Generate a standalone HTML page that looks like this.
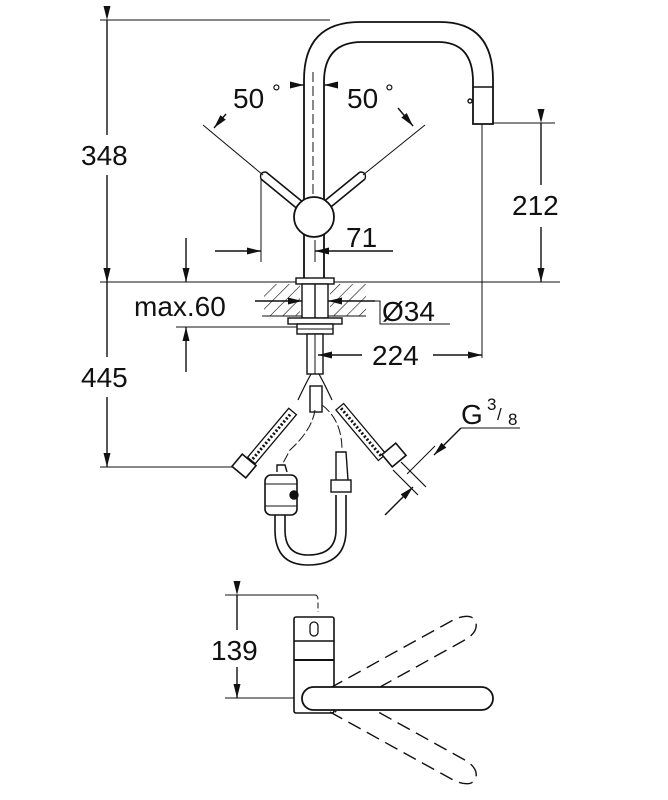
<!DOCTYPE html>
<html><head><meta charset="utf-8"><style>
html,body{margin:0;padding:0;background:#fff}
svg{display:block}
text{font-family:"Liberation Sans",sans-serif;fill:#111}
</style></head><body>
<svg width="668" height="800" viewBox="0 0 668 800" xmlns="http://www.w3.org/2000/svg">
<defs>
<marker id="a" viewBox="0 0 14 10" refX="14" refY="5" markerWidth="14" markerHeight="10" markerUnits="userSpaceOnUse" orient="auto"><path d="M0,1.5 L14,5 L0,8.5 z" fill="#111"/></marker>
<pattern id="h" width="9" height="9" patternUnits="userSpaceOnUse" patternTransform="rotate(45)"><line x1="0" y1="0" x2="0" y2="9" stroke="#111" stroke-width="1.2"/></pattern>
</defs>
<g fill="none" stroke="#111" stroke-width="1.4">
<line x1="100" y1="20" x2="330" y2="20" stroke-width="1"/>
<line x1="107" y1="20" x2="107" y2="135" marker-start="url(#a)"/>
<line x1="107" y1="175" x2="107" y2="282" marker-end="url(#a)"/>
<line x1="100" y1="282" x2="300" y2="282" stroke-width="1"/>
<line x1="328" y1="282" x2="560" y2="282" stroke-width="1"/>
<line x1="107" y1="282" x2="107" y2="357" marker-start="url(#a)"/>
<line x1="107" y1="397" x2="107" y2="467" marker-end="url(#a)"/>
<line x1="100" y1="467" x2="240" y2="467" stroke-width="1"/>
<line x1="186" y1="238" x2="186" y2="282" marker-end="url(#a)"/>
<line x1="186" y1="372" x2="186" y2="327" marker-end="url(#a)"/>
<line x1="176" y1="327" x2="300" y2="327" stroke-width="1"/>
<path d="M304,280 V80 Q304,22 360,22 H440 Q493,22 493,80 V124 H473 V82 Q473,42 438,42 H362 Q324,42 324,82 V280" stroke-width="1.8"/>
<line x1="473" y1="87" x2="493" y2="87"/>
<circle cx="470" cy="101" r="2"/>
<line x1="313" y1="72" x2="313" y2="200" stroke-width="1" stroke-dasharray="10,4"/>
<line x1="493" y1="123" x2="555" y2="123" stroke-width="1"/>
<line x1="541" y1="123" x2="541" y2="185" marker-start="url(#a)"/>
<line x1="541" y1="227" x2="541" y2="282" marker-end="url(#a)"/>
<line x1="482" y1="124" x2="482" y2="358" stroke-width="1"/>
<line x1="203" y1="125" x2="263" y2="175" stroke-width="1"/>
<line x1="425" y1="125" x2="363" y2="175" stroke-width="1"/>
<path d="M261,179 L300,211 M266,172 L304,203" stroke-width="1.6"/>
<path d="M261,179 Q259,172 266,172"/>
<path d="M365,179 L326,211 M360,172 L322,203" stroke-width="1.6"/>
<path d="M365,179 Q367,172 360,172"/>
<circle cx="314" cy="217" r="20" fill="#fff" stroke-width="1.8"/>
<path d="M226,114 L214,128" marker-end="url(#a)"/>
<path d="M398,108 L413,126" marker-end="url(#a)"/>
<line x1="290" y1="85" x2="304" y2="85" marker-end="url(#a)"/>
<line x1="338" y1="85" x2="324" y2="85" marker-end="url(#a)"/>
<line x1="261" y1="178" x2="261" y2="262" stroke-width="1"/>
<line x1="215" y1="251" x2="261" y2="251" marker-end="url(#a)"/>
<line x1="393" y1="251" x2="315" y2="251" marker-end="url(#a)"/>
<line x1="315" y1="240" x2="315" y2="262" stroke-width="1"/>
<rect x="264" y="284" width="36" height="32" fill="url(#h)" stroke="none"/>
<rect x="330" y="284" width="36" height="32" fill="url(#h)" stroke="none"/>
<line x1="262" y1="316" x2="366" y2="316" stroke-width="1"/>
<rect x="296" y="278" width="38" height="6" fill="#fff"/>
<rect x="302" y="284" width="26" height="34" fill="#fff"/>
<line x1="315" y1="284" x2="315" y2="318"/>
<rect x="288" y="318" width="54" height="6" fill="#fff"/>
<rect x="297" y="324" width="36" height="10" fill="#fff"/>
<line x1="297" y1="329" x2="333" y2="329" stroke-width="1"/>
<rect x="307" y="334" width="16" height="40" fill="#fff"/>
<line x1="315" y1="334" x2="315" y2="374" stroke-width="1"/>
<line x1="255" y1="301" x2="302" y2="301" marker-end="url(#a)"/>
<line x1="375" y1="301" x2="328" y2="301" marker-end="url(#a)"/>
<path d="M375,301 H380 V324 H450" stroke-width="1"/>
<line x1="362" y1="355" x2="318" y2="355" marker-end="url(#a)"/>
<line x1="433" y1="355" x2="482" y2="355" marker-end="url(#a)"/>
<path d="M311,374 Q305,385 298,400 M319,374 Q325,385 332,400" stroke-width="1.2"/>
<rect x="310" y="386" width="12" height="26" fill="#fff"/>
<g transform="translate(272,436) rotate(-50)"><rect x="-32" y="-5" width="64" height="10" fill="#fff" stroke-width="1.3"/><line x1="-30" y1="0" x2="30" y2="0" stroke-dasharray="2,2" stroke-width="3"/></g>
<g transform="translate(244,466) rotate(-50)"><rect x="-8" y="-9" width="16" height="18" fill="#fff" stroke-width="1.6"/></g>
<g transform="translate(361,432) rotate(50)"><rect x="-33" y="-5" width="66" height="10" fill="#fff" stroke-width="1.3"/><line x1="-31" y1="0" x2="31" y2="0" stroke-dasharray="2,2" stroke-width="3"/></g>
<g transform="translate(394,455) rotate(50)"><rect x="-8" y="-9" width="16" height="18" fill="#fff" stroke-width="1.6"/></g>
<path d="M401,462 L426,487 M393,470 L418,495" stroke-width="1.2"/>
<line x1="407" y1="474" x2="435" y2="446" stroke-width="1"/>
<line x1="385" y1="515" x2="413" y2="487" marker-end="url(#a)"/>
<line x1="461" y1="428" x2="434" y2="455" marker-end="url(#a)"/>
<line x1="461" y1="428" x2="520" y2="428" stroke-width="1"/>
<path d="M315,410 Q312,430 290,450 L282,465" stroke-width="1" stroke-dasharray="10,3"/>
<path d="M322,405 Q342,420 342,450" stroke-width="1" stroke-dasharray="10,3"/>
<path d="M277,472 V465 H285 L287,472" fill="#fff"/>
<rect x="265" y="475" width="32" height="40" rx="6" fill="#fff" stroke-width="1.6"/>
<line x1="265" y1="484" x2="297" y2="484" stroke-width="1"/>
<line x1="265" y1="506" x2="297" y2="506" stroke-width="1"/>
<circle cx="294" cy="495" r="4" fill="#111"/>
<path d="M275,515 V530 Q275,565 308,565 Q346,565 346,530 V495" stroke-width="1.6"/>
<path d="M285,515 V530 Q285,555 308,555 Q336,555 336,530 V495" stroke-width="1.6"/>
<rect x="331" y="480" width="20" height="12" fill="#fff"/>
<path d="M336,480 V452 H346 L348,480"/>
<line x1="225" y1="595" x2="315" y2="595" stroke-width="1"/>
<path d="M315,595 Q318,595 318,600 V612" stroke-width="1" stroke-dasharray="6,3"/>
<line x1="237" y1="595" x2="237" y2="630" marker-start="url(#a)"/>
<line x1="237" y1="667" x2="237" y2="698" marker-end="url(#a)"/>
<line x1="225" y1="698" x2="310" y2="698" stroke-width="1"/>
<rect x="294" y="617" width="40" height="96" rx="2" fill="#fff" stroke-width="1.6"/>
<line x1="294" y1="641" x2="334" y2="641"/>
<line x1="294" y1="660" x2="334" y2="660" stroke-width="2"/>
<rect x="310" y="622" width="8" height="14" rx="4" stroke-width="1.3"/>
<g stroke-dasharray="14,7" stroke-width="1.4">
<path d="M330,688 L455,619 Q473,612 476,623 Q478,633 463,641 L335,712"/>
<path d="M330,712 L455,781 Q473,788 476,777 Q478,767 463,759 L335,688"/>
</g>
<rect x="302" y="687" width="191" height="23" rx="11.5" fill="#fff" stroke-width="1.8"/>
</g>
<g font-size="28">
<text x="81" y="165">348</text>
<text x="81" y="387">445</text>
<text x="134" y="316">max.60</text>
<text x="233" y="108">50</text><text x="272" y="100" font-size="22">°</text>
<text x="347" y="108">50</text><text x="385" y="100" font-size="22">°</text>
<text x="346" y="247">71</text>
<text x="512" y="215">212</text>
<text x="382" y="321">Ø34</text>
<text x="372" y="365">224</text>
<text x="461" y="424">G</text><text x="487" y="410" font-size="17">3</text><text x="497" y="420" font-size="17">/</text><text x="508" y="425" font-size="17">8</text>
<text x="211" y="660">139</text>
</g>
</svg>
</body></html>
